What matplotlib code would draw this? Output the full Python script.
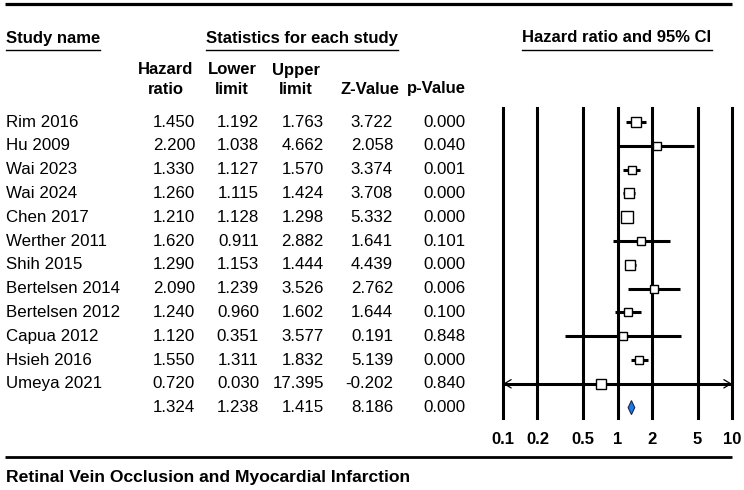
import numpy as np
import matplotlib
matplotlib.use("Agg")
import matplotlib.pyplot as plt

plt.rcParams['font.family'] = ['Liberation Sans', 'DejaVu Sans']

# study data
studies = ["Rim 2016", "Hu 2009", "Wai 2023", "Wai 2024", "Chen 2017", "Werther 2011",
           "Shih 2015", "Bertelsen 2014", "Bertelsen 2012", "Capua 2012", "Hsieh 2016",
           "Umeya 2021"]
hr = [1.450, 2.200, 1.330, 1.260, 1.210, 1.620, 1.290, 2.090, 1.240, 1.120, 1.550, 0.720]
lower = [1.192, 1.038, 1.127, 1.115, 1.128, 0.911, 1.153, 1.239, 0.960, 0.351, 1.311, 0.030]
upper = [1.763, 4.662, 1.570, 1.424, 1.298, 2.882, 1.444, 3.526, 1.602, 3.577, 1.832, 17.395]
zval = [3.722, 2.058, 3.374, 3.708, 5.332, 1.641, 4.439, 2.762, 1.644, 0.191, 5.139, -0.202]
pval = [0.000, 0.040, 0.001, 0.000, 0.000, 0.101, 0.000, 0.006, 0.100, 0.848, 0.000, 0.840]

# pooled estimate
sum_hr, sum_lo, sum_hi, sum_z, sum_p = 1.324, 1.238, 1.415, 8.186, 0.000

xticks = [0.1, 0.2, 0.5, 1, 2, 5, 10]
xticklabels = ["0.1", "0.2", "0.5", "1", "2", "5", "10"]

# box sizes (pixels) as drawn in the original
box_px = [9.3, 8.7, 8.5, 10.5, 12.3, 8.3, 10.5, 8.7, 8.3, 8.7, 8.7, 9.3]

W, H = 744, 490
fig = plt.figure(figsize=(W / 100, H / 100), dpi=100)

# background axes in pixel coordinates for the table part
bg = fig.add_axes([0, 0, 1, 1])
bg.set_xlim(0, W)
bg.set_ylim(H, 0)
bg.axis('off')

fs = 12.2
fsb = 12.0
row0, dy = 122, 23.8

# rules
bg.plot([5, 732], [4, 4], color='black', lw=2.3, solid_capstyle='butt')
bg.plot([5, 732], [457, 457], color='black', lw=2.0, solid_capstyle='butt')

# section headers
hdrs = [
    bg.text(6, 38, "Study name", fontsize=fsb, fontweight='bold', ha='left', va='center'),
    bg.text(302, 38, "Statistics for each study", fontsize=fsb, fontweight='bold', ha='center', va='center'),
    bg.text(617, 38, "Hazard ratio and 95% CI", fontsize=fsb, fontweight='bold', ha='center', va='center'),
]

col_right = [195, 259, 324, 393, 465]
col_center = [166, 232, 296, 370, 436]
col_hdr = [("Hazard", "ratio"), ("Lower", "limit"), ("Upper", "limit"), ("", "Z-Value"), ("", "p-Value")]
for cx, (l1, l2) in zip(col_center, col_hdr):
    if l1:
        bg.text(cx, 70, l1, fontsize=fsb, fontweight='bold', ha='center', va='center')
    bg.text(cx, 89, l2, fontsize=fsb, fontweight='bold', ha='center', va='center')

for i, name in enumerate(studies):
    y = row0 + dy * i
    bg.text(6, y, name, fontsize=fs, ha='left', va='center')
    vals = [hr[i], lower[i], upper[i], zval[i], pval[i]]
    for xr, v in zip(col_right, vals):
        bg.text(xr, y, f"{v:.3f}", fontsize=fs, ha='right', va='center')

ys = row0 + dy * len(studies)
for xr, v in zip(col_right, [sum_hr, sum_lo, sum_hi, sum_z, sum_p]):
    bg.text(xr, ys, f"{v:.3f}", fontsize=fs, ha='right', va='center')

bg.text(6, 477, "Retinal Vein Occlusion and Myocardial Infarction", fontsize=12.6,
        fontweight='bold', ha='left', va='center')

# underline the section headers
fig.canvas.draw()
r = fig.canvas.get_renderer()
inv = bg.transData.inverted()
for t in hdrs:
    bb = t.get_window_extent(renderer=r)
    (x0, _), (x1, _) = inv.transform([(bb.x0, bb.y0), (bb.x1, bb.y1)])
    bg.plot([x0, x1], [50, 50], color='black', lw=1.0)

# forest plot axes
left_px, right_px, top_px, bot_px = 503, 732, 108, 418
ax = fig.add_axes([left_px / W, 1 - bot_px / H, (right_px - left_px) / W, (bot_px - top_px) / H])
ax.set_xscale('log')
ax.set_xlim(0.1, 10)
ax.set_ylim((bot_px - row0) / dy, (top_px - row0) / dy)
ax.patch.set_alpha(0)
for s in ax.spines.values():
    s.set_visible(False)
ax.set_yticks([])
ax.set_xticks(xticks)
ax.set_xticklabels(xticklabels, fontsize=fsb, fontweight='bold')
ax.xaxis.set_minor_locator(matplotlib.ticker.NullLocator())
ax.tick_params(axis='x', length=0, pad=10)

for xv in xticks:
    ax.axvline(xv, color='black', lw=2.2, clip_on=False, zorder=1)

for i in range(len(studies)):
    lo = max(lower[i], 0.1)
    hi = min(upper[i], 10)
    ax.plot([lo, hi], [i, i], color='black', lw=2.2, solid_capstyle='butt', zorder=2, clip_on=False)
    if lower[i] < 0.1 or upper[i] > 10:
        ax.annotate('', xy=(0.1 if lower[i] < 0.1 else hr[i], i), xytext=(10 if upper[i] > 10 else hr[i], i),
                    arrowprops=dict(arrowstyle='<->,head_length=0.5,head_width=0.3', lw=0.9,
                                    color='black', shrinkA=0, shrinkB=0), annotation_clip=False)
    ax.plot(hr[i], i, marker='s', markersize=box_px[i] / 1.389, markerfacecolor='white',
            markeredgecolor='black', markeredgewidth=1.0, zorder=3, clip_on=False)

n = len(studies)
dh = 7 / dy
ax.fill([sum_lo, sum_hr, sum_hi, sum_hr], [n, n - dh, n, n + dh], facecolor='#1e78e6',
        edgecolor='#1a2a50', lw=0.8, zorder=3)

fig.savefig("out.png", dpi=100)
